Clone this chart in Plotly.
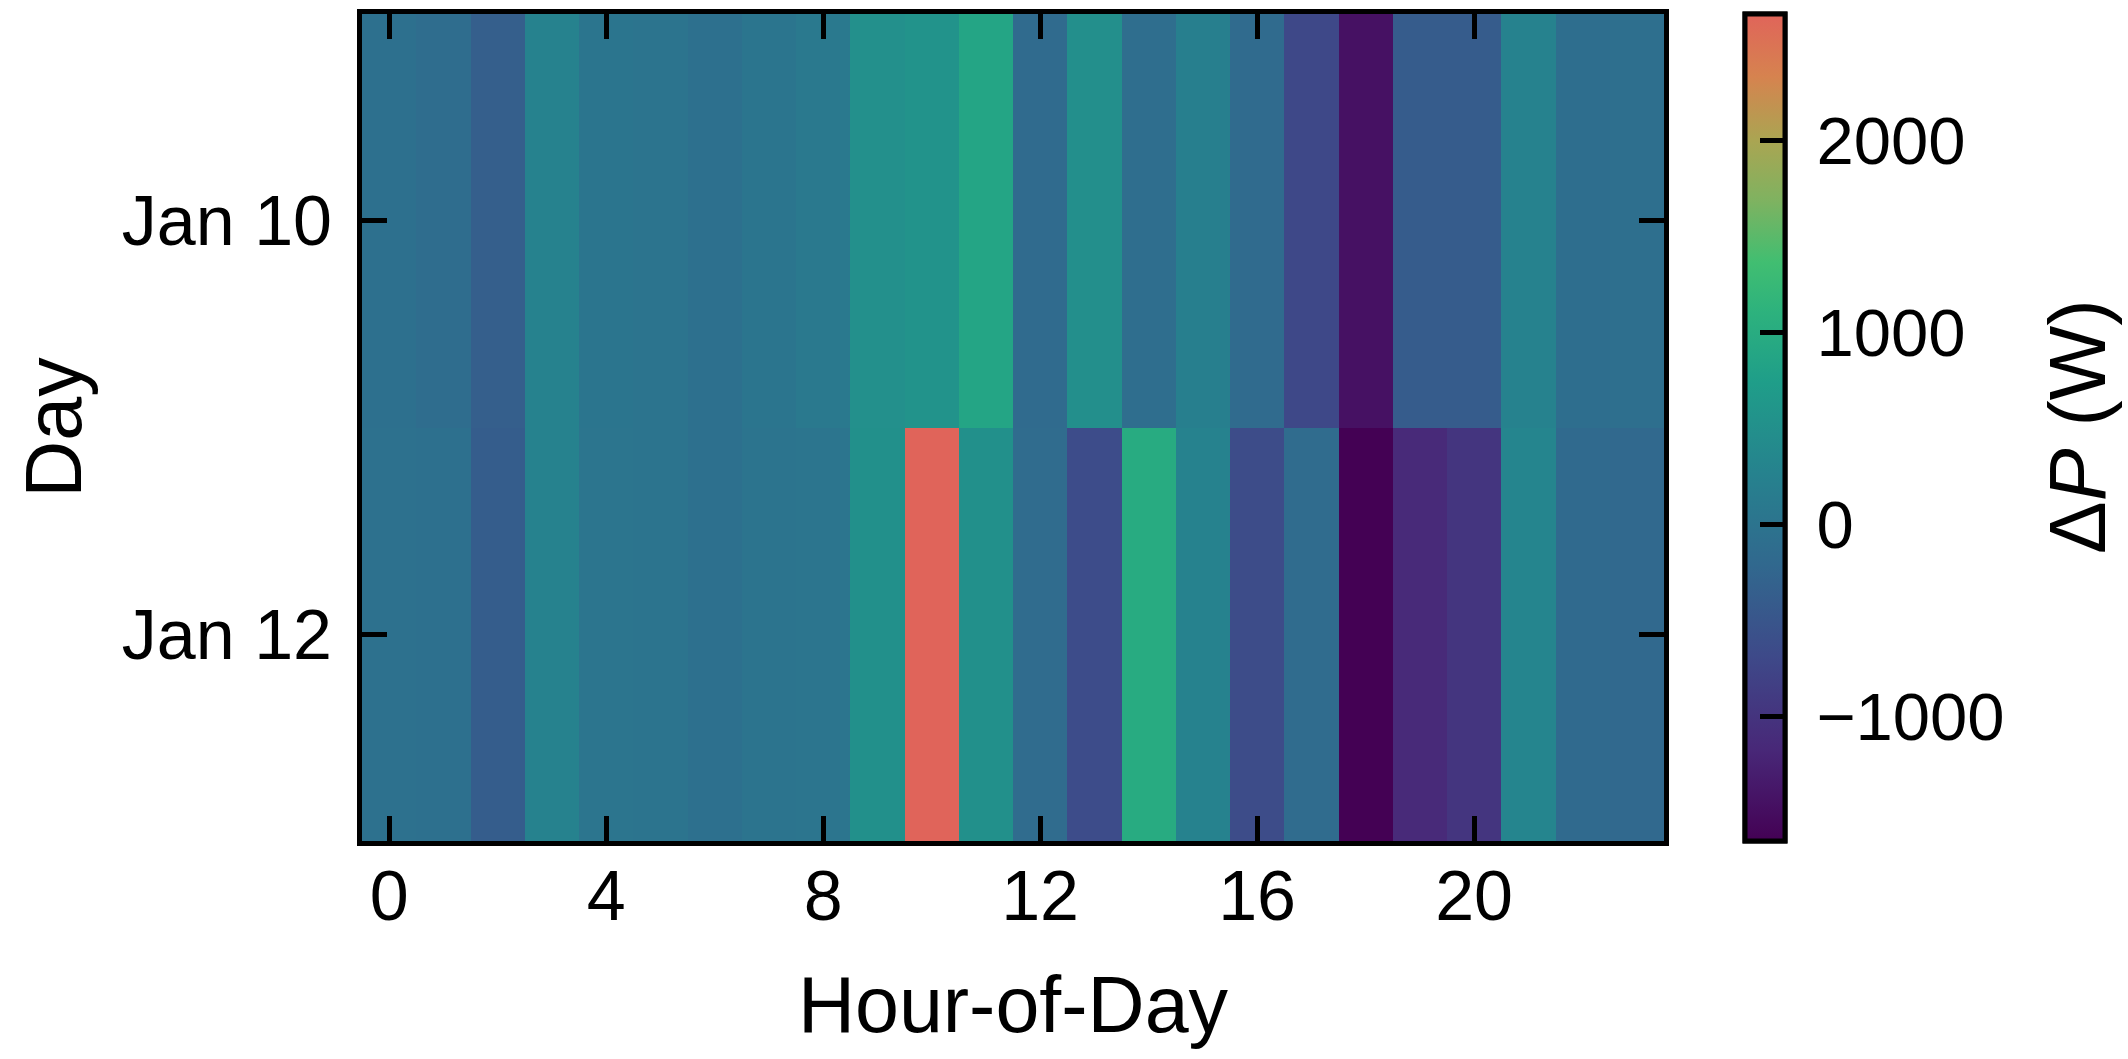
import plotly.graph_objects as go

# ---- data ----
hours = list(range(24))
days = ["Jan 10", "Jan 12"]
dp_jan10 = [-60, -120, -360, 270, 30, 10, -60, 30, 95, 505, 550, 870,
            -165, 485, -110, 200, -165, -715, -1455, -400, -400, 270, -100, -95]
dp_jan12 = [-50, -60, -380, 270, 20, 15, -60, 0, 20, 510, 2661, 510,
            -150, -640, 990, 270, -650, -150, -1651, -1150, -980, 310, -170, -200]
x_ticks = [0, 4, 8, 12, 16, 20]
cb_ticks = [-1000, 0, 1000, 2000]
z_min, z_max = -1651, 2661

colorscale = [
    [0.000, "#440154"],
    [0.111, "#482878"],
    [0.222, "#3e4989"],
    [0.333, "#31688e"],
    [0.444, "#26828e"],
    [0.556, "#1f9e89"],
    [0.640, "#2db27d"],
    [0.700, "#41be71"],
    [0.776, "#80b260"],
    [0.847, "#aaa552"],
    [0.924, "#d6834f"],
    [1.000, "#e0645a"],
]

FONT = "Liberation Sans, Arial, sans-serif"
TICK_SIZE = 70
CB_TICK_SIZE = 67
TITLE_SIZE = 79

cb_base = dict(
    x=1.0622,
    xanchor="left",
    xpad=0,
    y=0.5,
    yanchor="middle",
    len=1.0,
    lenmode="fraction",
    ypad=0,
    thickness=40,
    outlinewidth=5,
    outlinecolor="black",
    tickvals=cb_ticks,
    tickfont=dict(size=CB_TICK_SIZE, family=FONT, color="black"),
)

# colorbar carrying the tick labels (outside, invisible ticks give label padding)
cb_labels = dict(cb_base, ticks="outside", ticklen=16, tickwidth=1,
                 tickcolor="rgba(0,0,0,0)", showticklabels=True)
# colorbar drawn on top with the inward ticks
cb_ticksin = dict(cb_base, ticks="inside", ticklen=27, tickwidth=5,
                  tickcolor="black", showticklabels=False)

z = [dp_jan10, dp_jan12]

fig = go.Figure()
fig.add_trace(go.Heatmap(z=z, x=hours, y=days, zmin=z_min, zmax=z_max,
                         colorscale=colorscale, colorbar=cb_labels))
fig.add_trace(go.Heatmap(z=z, x=hours, y=days, zmin=z_min, zmax=z_max,
                         colorscale=colorscale, colorbar=cb_ticksin))

axis_common = dict(
    ticks="inside",
    ticklen=25,
    tickwidth=5,
    tickcolor="black",
    showline=True,
    linewidth=5,
    linecolor="black",
    mirror="ticks",
    showgrid=False,
    zeroline=False,
    tickfont=dict(size=TICK_SIZE, family=FONT, color="black"),
)

fig.update_xaxes(
    range=[-0.5, 23.5],
    tickvals=x_ticks,
    ticklabelstandoff=-10,
    title=dict(text="Hour-of-Day", font=dict(size=TITLE_SIZE, family=FONT, color="black"), standoff=44),
    **axis_common,
)
fig.update_yaxes(
    type="category",
    autorange="reversed",
    ticklabelstandoff=11,
    title=dict(text="Day", font=dict(size=TITLE_SIZE, family=FONT, color="black"), standoff=16),
    **axis_common,
)

fig.add_annotation(
    text="Δ<i>P</i> (W)",
    xref="paper",
    yref="paper",
    x=(2077 - 362) / 1302,
    y=0.5006,
    xanchor="center",
    yanchor="middle",
    textangle=-90,
    showarrow=False,
    font=dict(size=TITLE_SIZE, family=FONT, color="black"),
)

fig.update_layout(
    width=2128,
    height=1059,
    margin=dict(l=362, r=464, t=14, b=218, autoexpand=False),
    plot_bgcolor="white",
    paper_bgcolor="white",
    font=dict(family=FONT, color="black"),
)

fig.write_html("out.html")
